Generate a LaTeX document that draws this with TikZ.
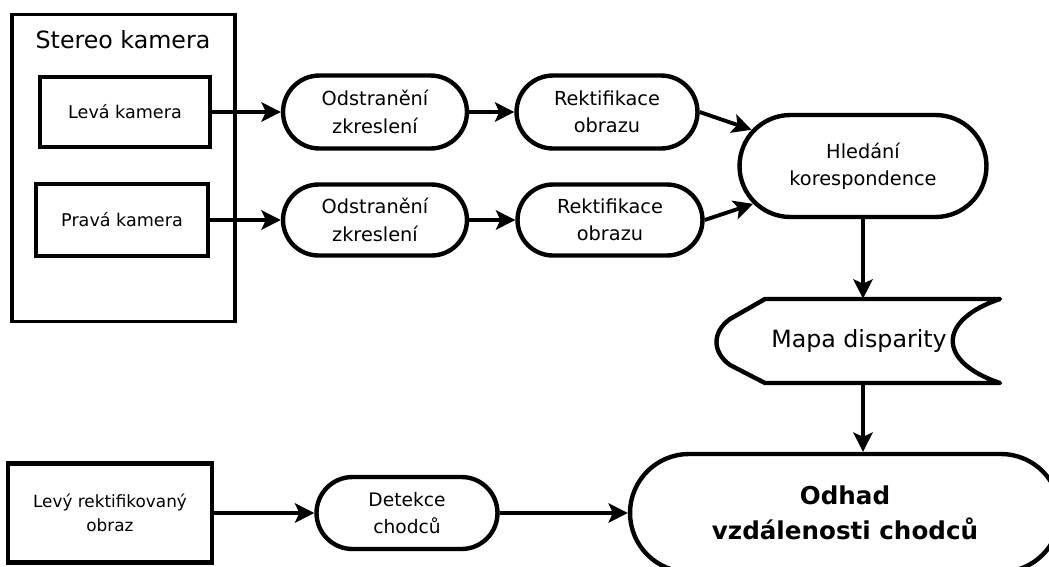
\documentclass[tikz,border=0pt]{standalone}
\usepackage{fontspec}
\setmainfont{DejaVu Sans}
\usetikzlibrary{shapes.misc,arrows.meta,positioning,calc}

\begin{document}
\begin{tikzpicture}[x=0.02cm, y=-0.02cm,
    box/.style={draw, line width=2.5pt, align=center, font=\fontsize{10}{14}\selectfont},
    pill/.style={rounded rectangle, draw, line width=2.5pt, align=center, inner sep=0pt, font=\fontsize{11}{15.5}\selectfont},
    arr/.style={line width=2.2pt, -{Stealth[length=11pt,width=11pt,inset=2.5pt]}}]
    \useasboundingbox (0,0) rectangle (1049,566);

    % stereo camera
    \node (Stereo) at (123.5,168) [draw, line width=2.2pt, minimum width=4.46cm, minimum height=6.14cm] {};
    \node (StereoTitle) at (123,40) [font=\fontsize{13.5}{16}\selectfont] {Stereo kamera};
    \node (Leva) at (125,112) [box, minimum width=3.4cm, minimum height=1.4cm] {Levá kamera};
    \node (Prava) at (122,220) [box, minimum width=3.44cm, minimum height=1.44cm] {Pravá kamera};

    % preprocessing
    \node (Odstr1) at (375,112) [pill, minimum width=3.68cm, minimum height=1.46cm] {Odstranění\\zkreslení};
    \node (Odstr2) at (375,220) [pill, minimum width=3.68cm, minimum height=1.42cm] {Odstranění\\zkreslení};
    \node (Rekt1) at (607,112) [pill, minimum width=3.62cm, minimum height=1.46cm] {Rektifikace\\obrazu};
    \node (Rekt2) at (610,220) [pill, minimum width=3.7cm, minimum height=1.42cm] {Rektifikace\\obrazu};

    \node (Hledani) at (863,166) [pill, minimum width=4.94cm, minimum height=2.04cm] {Hledání\\korespondence};

    % disparity map
    \node (Mapa) at (859,341) [minimum width=5.64cm, minimum height=1.68cm, font=\fontsize{13.5}{16}\selectfont] {Mapa disparity};
    \draw [line width=2.5pt, line join=round] (765,299) -- (1000,299) .. controls (937,320) and (937,362) .. (1000,383)
        -- (765,383) -- (730,365) .. controls (712,352) and (712,332) .. (730,319) -- cycle;

    % bottom row
    \node (Levy) at (110,513) [box, minimum width=4.08cm, minimum height=1.98cm, font=\fontsize{9.6}{14}\selectfont] {Levý rektifikovaný\\obraz};
    \node (Detekce) at (407,513) [pill, minimum width=3.62cm, minimum height=1.44cm, font=\fontsize{10.6}{15}\selectfont] {Detekce\\chodců};
    \node (Odhad) at (845,513) [pill, minimum width=8.6cm, minimum height=2.36cm, font=\bfseries\fontsize{14}{20}\selectfont] {Odhad\\vzdálenosti chodců};

    \draw [arr] (Leva) -- (Odstr1);
    \draw [arr] (Prava) -- (Odstr2);
    \draw [arr] (Odstr1) -- (Rekt1);
    \draw [arr] (Odstr2) -- (Rekt2);
    \draw [arr] (Rekt1.east) -- (Hledani.162);
    \draw [arr] (Rekt2.east) -- (Hledani.199);
    \draw [arr] (Hledani.south) -- (Hledani.south |- Mapa.north);
    \draw [arr] (Mapa.south -| Hledani) -- (Odhad.north -| Hledani);
    \draw [arr] (Levy) -- (Detekce);
    \draw [arr] (Detekce) -- (Odhad);
\end{tikzpicture}
\end{document}
